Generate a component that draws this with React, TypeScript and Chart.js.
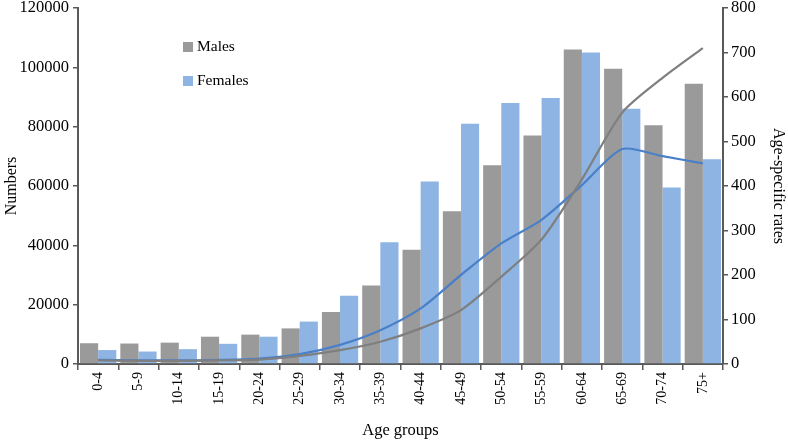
import { useEffect, useRef } from 'react';
import { Chart, registerables } from 'chart.js';

Chart.register(...registerables);

const ageGroups = ['0-4', '5-9', '10-14', '15-19', '20-24', '25-29', '30-34', '35-39',
  '40-44', '45-49', '50-54', '55-59', '60-64', '65-69', '70-74', '75+'];
const maleNumbers = [7000, 6900, 7200, 9200, 9900, 12000, 17500, 26500,
  38500, 51500, 67000, 77000, 106000, 99500, 80500, 94500];
const femaleNumbers = [4700, 4200, 5000, 6800, 9200, 14300, 23000, 41000,
  61500, 81000, 88000, 89700, 105000, 86000, 59500, 69000];
const maleRates = [8, 7, 7, 8, 10, 18, 31, 50, 80, 121, 196, 280, 415, 565, 643, 710];
const femaleRates = [9, 8, 8, 9, 12, 22, 43, 76, 125, 200, 271, 324, 402, 483, 467, 451];

const FONT = '"Liberation Serif", "Times New Roman", serif';
const AXIS_COLOR = '#595959';

// legend drawn inside the plot, stacked vertically, bars only
const insideLegend = {
  id: 'insideLegend',
  afterDraw(chart: any) {
    const ctx = chart.ctx;
    const items = [
      { label: 'Males', color: '#9a9a9a', y: 47 },
      { label: 'Females', color: '#8db4e2', y: 81 },
    ];
    ctx.save();
    ctx.font = `15.5px ${FONT}`;
    ctx.textBaseline = 'middle';
    ctx.textAlign = 'left';
    items.forEach(item => {
      ctx.fillStyle = item.color;
      ctx.fillRect(183, item.y - 5, 10, 10);
      ctx.fillStyle = '#000';
      ctx.fillText(item.label, 197, item.y);
    });
    ctx.restore();
  },
};

export default function App() {
  const canvasRef = useRef<HTMLCanvasElement>(null);

  useEffect(() => {
    if (!canvasRef.current) return;
    const chart = new Chart(canvasRef.current, {
      type: 'bar',
      data: {
        labels: ageGroups,
        datasets: [
          {
            type: 'line',
            label: 'Male rates',
            data: maleRates,
            yAxisID: 'y1',
            borderColor: '#7f7f7f',
            borderWidth: 2.25,
            pointRadius: 0,
            tension: 0.25,
            order: 0,
          },
          {
            type: 'line',
            label: 'Female rates',
            data: femaleRates,
            yAxisID: 'y1',
            borderColor: '#4a80c8',
            borderWidth: 2.25,
            pointRadius: 0,
            tension: 0.25,
            order: 0,
          },
          {
            label: 'Males',
            data: maleNumbers,
            yAxisID: 'y',
            backgroundColor: '#9a9a9a',
            barPercentage: 1,
            categoryPercentage: 0.9,
            order: 1,
          },
          {
            label: 'Females',
            data: femaleNumbers,
            yAxisID: 'y',
            backgroundColor: '#8db4e2',
            barPercentage: 1,
            categoryPercentage: 0.9,
            order: 1,
          },
        ],
      },
      options: {
        responsive: true,
        maintainAspectRatio: false,
        animation: false,
        layout: { padding: { top: 0, left: 0, right: 0, bottom: 0 } },
        plugins: {
          legend: { display: false },
          tooltip: { enabled: false },
        },
        scales: {
          x: {
            offset: true,
            grid: { display: true, drawOnChartArea: false, drawTicks: true, tickLength: 6, color: AXIS_COLOR, lineWidth: 1.5, offset: true },
            border: { display: true, color: AXIS_COLOR, width: 2 },
            ticks: { color: '#000', font: { family: FONT, size: 14 }, minRotation: 90, maxRotation: 90, padding: 2 },
            title: { display: true, text: 'Age groups', color: '#000', font: { family: FONT, size: 16.5 }, padding: { top: 0, bottom: 0 } },
            afterFit: (scale: any) => { scale.height = 77; },
          },
          y: {
            position: 'left',
            min: 0,
            max: 120000,
            grid: { display: true, drawOnChartArea: false, drawTicks: true, tickLength: 5, color: AXIS_COLOR, lineWidth: 1.5 },
            border: { display: true, color: AXIS_COLOR, width: 2 },
            ticks: { stepSize: 20000, color: '#000', font: { family: FONT, size: 16.5 }, padding: 4, callback: (v: any) => String(v) },
            title: { display: true, text: 'Numbers', color: '#000', font: { family: FONT, size: 16 }, padding: { top: 2, bottom: 0 } },
            afterFit: (scale: any) => { scale.width = 78; scale.paddingTop = 8; scale.paddingBottom = 0; },
          },
          y1: {
            position: 'right',
            min: 0,
            max: 800,
            grid: { display: true, drawOnChartArea: false, drawTicks: true, tickLength: 5, color: AXIS_COLOR, lineWidth: 1.5 },
            border: { display: true, color: AXIS_COLOR, width: 2 },
            ticks: { stepSize: 100, color: '#000', font: { family: FONT, size: 16.5 }, padding: 3, callback: (v: any) => String(v) },
            title: { display: true, text: 'Age-specific rates', color: '#000', font: { family: FONT, size: 16 }, padding: { top: 0, bottom: 0 } },
            afterFit: (scale: any) => { scale.width = 65; scale.paddingTop = 8; scale.paddingBottom = 0; },
          },
        },
      },
      plugins: [insideLegend],
    });
    return () => chart.destroy();
  }, []);

  return (
    <div style={{ position: 'absolute', left: 0, top: 0, width: 788, height: 441, background: '#fff' }}>
      <canvas ref={canvasRef}></canvas>
    </div>
  );
}
